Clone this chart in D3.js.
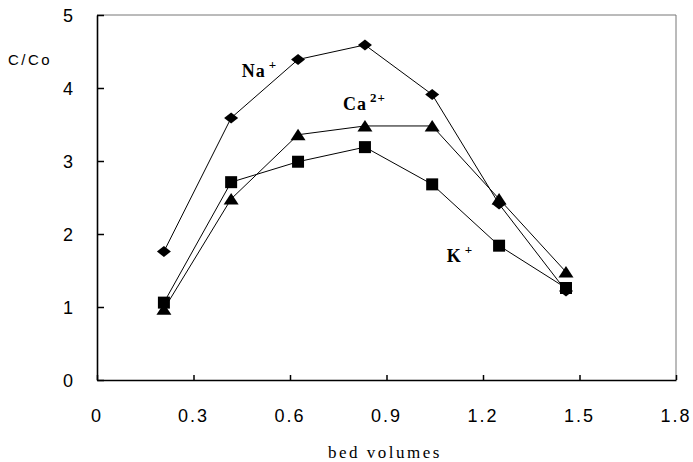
<!DOCTYPE html>
<html>
<head>
<meta charset="utf-8">
<script src="https://cdn.jsdelivr.net/npm/d3@7"></script>
<style>
  body { margin: 0; background: #fff; }
  svg { display: block; }
</style>
</head>
<body>
<script>
'use strict';

// bed volumes (x) and C/Co (y) for each ion
const bedVolumes = [0.208, 0.417, 0.625, 0.833, 1.042, 1.25, 1.458];
const naValues = [1.76, 3.59, 4.39, 4.59, 3.91, 2.41, 1.22];
const caValues = [0.97, 2.48, 3.36, 3.48, 3.48, 2.48, 1.48];
const kValues = [1.06, 2.71, 2.99, 3.19, 2.68, 1.84, 1.26];
const xTicks = [0, 0.3, 0.6, 0.9, 1.2, 1.5, 1.8];
const yTicks = [0, 1, 2, 3, 4, 5];

const width = 693, height = 462;

const svg = d3.select('body').append('svg')
  .attr('width', width)
  .attr('height', height);

// scales
const xScale = d3.scaleLinear().domain([0, 1.8]).range([97, 676]);
const yScale = d3.scaleLinear().domain([0, 5]).range([380, 15]);

// plot frame: top and right edges are thin grey
svg.append('path')
  .attr('d', `M${xScale(0)},${yScale(5)}H${xScale(1.8)}V${yScale(0)}`)
  .attr('fill', 'none')
  .attr('stroke', '#777')
  .attr('stroke-width', 1);

// x axis, ticks pointing up into the plot
const xAxis = svg.append('g')
  .attr('transform', `translate(0,${yScale(0)})`)
  .call(d3.axisTop(xScale).tickValues(xTicks).tickSize(5).tickSizeOuter(0).tickFormat(''));
xAxis.select('.domain').attr('stroke-width', 1.6);
xAxis.selectAll('.tick line').attr('stroke-width', 1.5);

svg.append('g').selectAll('text')
  .data(xTicks)
  .join('text')
  .attr('x', d => xScale(d))
  .attr('y', 422)
  .attr('text-anchor', 'middle')
  .style('font-family', '"Liberation Sans", sans-serif')
  .style('font-size', '18px')
  .style('letter-spacing', '2px')
  .text(d => d === 0 ? '0' : d3.format('.1f')(d));

// y axis, ticks pointing right into the plot
const yAxis = svg.append('g')
  .attr('transform', `translate(${xScale(0)},0)`)
  .call(d3.axisRight(yScale).tickValues(yTicks).tickSize(7).tickSizeOuter(0).tickFormat(''));
yAxis.select('.domain').attr('stroke-width', 1.6);
yAxis.selectAll('.tick line').attr('stroke-width', 1.5);

svg.append('g').selectAll('text')
  .data(yTicks)
  .join('text')
  .attr('x', 68)
  .attr('y', d => yScale(d) + 7)
  .attr('text-anchor', 'middle')
  .style('font-family', '"Liberation Sans", sans-serif')
  .style('font-size', '18px')
  .text(d => d);

// axis titles
svg.append('text')
  .attr('x', 8)
  .attr('y', 65)
  .style('font-family', '"Liberation Sans", sans-serif')
  .style('font-size', '15px')
  .style('letter-spacing', '2.5px')
  .text('C/Co');

svg.append('text')
  .attr('x', 385)
  .attr('y', 458)
  .attr('text-anchor', 'middle')
  .style('font-family', '"Liberation Serif", serif')
  .style('font-size', '17px')
  .style('letter-spacing', '2.5px')
  .text('bed volumes');

// marker shapes
const diamond = 'M0,-5.5L7,0L0,5.5L-7,0Z';
const square = 'M-6,-6H6V6H-6Z';
const triangle = 'M0,-6L7.5,5.5H-7.5Z';

const series = [
  { values: naValues, shape: diamond },
  { values: caValues, shape: triangle },
  { values: kValues, shape: square }
];

const line = d3.line()
  .x(d => xScale(d[0]))
  .y(d => yScale(d[1]));

series.forEach(s => {
  const pts = bedVolumes.map((x, i) => [x, s.values[i]]);
  svg.append('path')
    .datum(pts)
    .attr('fill', 'none')
    .attr('stroke', '#000')
    .attr('stroke-width', 1)
    .attr('d', line);
  svg.append('g').selectAll('path')
    .data(pts)
    .join('path')
    .attr('transform', d => `translate(${xScale(d[0])},${yScale(d[1])})`)
    .attr('d', s.shape)
    .attr('fill', '#000');
});

// ion labels
const ionLabels = [
  { base: 'Na', sup: '+', x: 0.45, y: 4.15 },
  { base: 'Ca', sup: '2+', x: 0.765, y: 3.7 },
  { base: 'K', sup: '+', x: 1.087, y: 1.62 }
];

ionLabels.forEach(l => {
  const t = svg.append('text')
    .attr('x', xScale(l.x))
    .attr('y', yScale(l.y))
    .style('font-family', '"Liberation Serif", serif')
    .style('font-size', '18px')
    .style('font-weight', 'bold')
    .style('letter-spacing', '1px');
  t.append('tspan').text(l.base);
  t.append('tspan')
    .attr('dx', 3)
    .attr('dy', -8)
    .style('font-size', '13px')
    .text(l.sup);
});
</script>
</body>
</html>
